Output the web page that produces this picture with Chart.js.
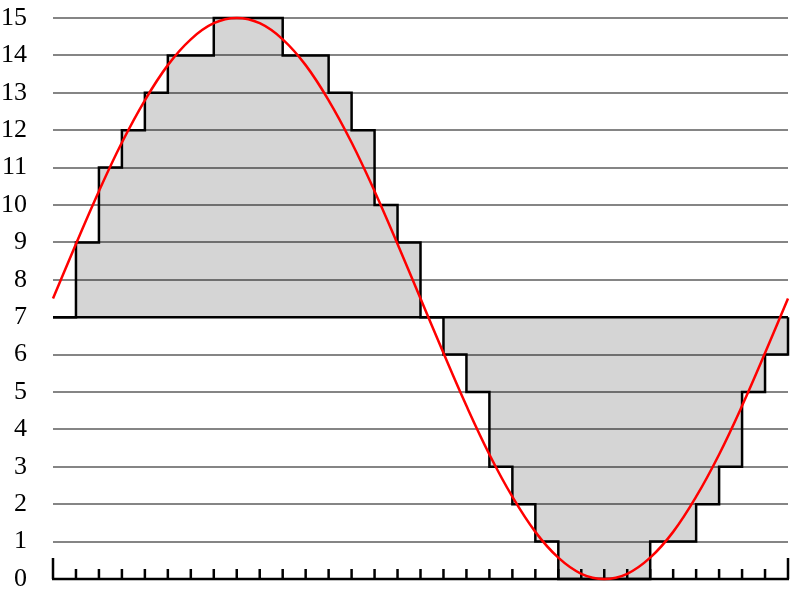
<!DOCTYPE html>
<html>
<head>
<meta charset="utf-8">
<script src="https://cdn.jsdelivr.net/npm/chart.js@4"></script>
<style>
  html, body { margin: 0; padding: 0; background: #fff; }
  #wrap { width: 800px; height: 600px; }
</style>
</head>
<body>
<div id="wrap"><canvas id="c" width="800" height="600"></canvas></div>
<script>
// Sample positions (tick indices along x)
const samplePositions = [0,1,2,3,4,5,6,7,8,9,10,11,12,13,14,15,16,17,18,19,20,21,22,23,24,25,26,27,28,29,30,31,32];
// Quantised (4-bit) step values, one per interval 0..31
const stepValues = [7,9,11,12,13,14,14,15,15,15,14,14,13,12,10,9,7,6,5,3,2,1,0,0,0,0,1,1,2,3,5,6];
// Analog signal read at each tick position 0..32
const signalValues = [7.5,8.96,10.37,11.67,12.8,13.74,14.43,14.86,15,14.86,14.43,13.74,12.8,11.67,10.37,8.96,7.5,6.04,4.63,3.33,2.2,1.26,0.57,0.14,0,0.14,0.57,1.26,2.2,3.33,4.63,6.04,7.5];
// Y tick labels
const yTicks = [0,1,2,3,4,5,6,7,8,9,10,11,12,13,14,15];
const midLevel = 7;

const stepData = stepValues.map((v, i) => ({x: samplePositions[i], y: v}));
stepData.push({x: samplePositions[samplePositions.length - 1], y: stepValues[stepValues.length - 1]});
stepData.push({x: samplePositions[samplePositions.length - 1], y: midLevel});

const signalData = signalValues.map((v, i) => ({x: samplePositions[i], y: v}));
const baseData = [{x: samplePositions[0], y: midLevel}, {x: samplePositions[samplePositions.length - 1], y: midLevel}];

const axisPlugin = {
  id: 'innerTicks',
  beforeDatasetsDraw(chart) {
    const ctx = chart.ctx;
    const xs = chart.scales.x, ys = chart.scales.y;
    const y0 = ys.getPixelForValue(0);
    ctx.save();
    ctx.strokeStyle = '#000';
    ctx.lineWidth = 2.5;
    ctx.lineCap = 'butt';
    ctx.beginPath();
    ctx.moveTo(xs.getPixelForValue(samplePositions[0]) - 1, y0);
    ctx.lineTo(xs.getPixelForValue(samplePositions[samplePositions.length - 1]) + 1, y0);
    samplePositions.forEach((p, i) => {
      const px = xs.getPixelForValue(p);
      const len = (i === 0 || i === samplePositions.length - 1) ? 21 : 10;
      ctx.moveTo(px, y0);
      ctx.lineTo(px, y0 - len);
    });
    ctx.stroke();
    ctx.restore();
  }
};

new Chart(document.getElementById('c'), {
  type: 'line',
  data: {
    datasets: [
      {
        data: signalData,
        borderColor: '#ff0000',
        borderWidth: 2.5,
        pointRadius: 0,
        tension: 0.4,
        fill: false,
        clip: false
      },
      {
        data: stepData,
        borderColor: '#000000',
        borderWidth: 2.5,
        pointRadius: 0,
        stepped: 'before',
        fill: {value: midLevel},
        backgroundColor: 'rgba(0,0,0,0.165)',
        clip: false
      },
      {
        data: baseData,
        borderColor: '#000000',
        borderWidth: 2.5,
        pointRadius: 0,
        fill: false,
        clip: false
      }
    ]
  },
  options: {
    responsive: false,
    animation: false,
    devicePixelRatio: 1,
    layout: { padding: { top: 18, right: 12, bottom: 21, left: 0 } },
    plugins: { legend: { display: false }, tooltip: { enabled: false } },
    scales: {
      x: {
        type: 'linear',
        min: samplePositions[0],
        max: samplePositions[samplePositions.length - 1],
        display: false
      },
      y: {
        min: yTicks[0],
        max: yTicks[yTicks.length - 1],
        afterFit(scale) { scale.width = 53; scale.paddingTop = 0; scale.paddingBottom = 0; },
        afterBuildTicks(scale) { scale.ticks = yTicks.map(v => ({value: v})); },
        border: { display: false },
        grid: {
          color: ctx => (ctx.tick && ctx.tick.value === 0) ? 'rgba(0,0,0,0)' : '#858585',
          lineWidth: 2,
          drawTicks: false
        },
        ticks: {
          padding: 26,
          color: '#000',
          font: { family: "'Liberation Serif', 'DejaVu Serif', serif", size: 26 }
        }
      }
    }
  },
  plugins: [axisPlugin]
});
</script>
</body>
</html>
